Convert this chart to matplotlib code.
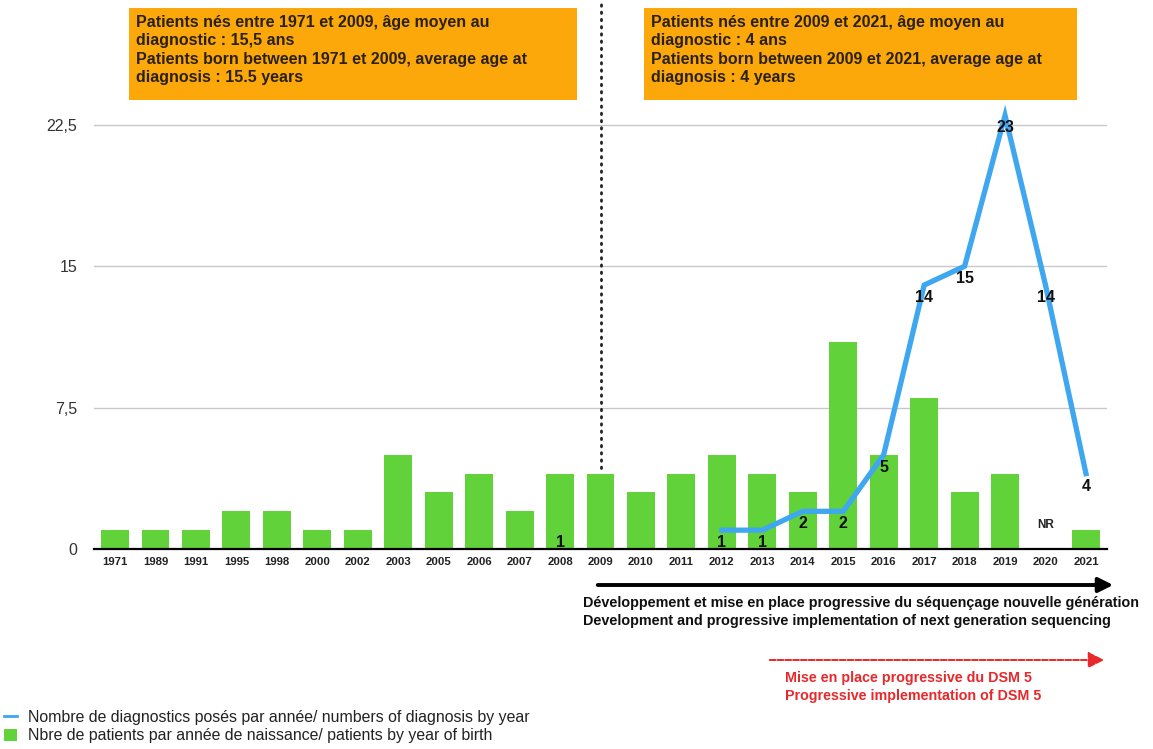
import numpy as np
import matplotlib
matplotlib.use("Agg")
import matplotlib.pyplot as plt
from matplotlib.lines import Line2D
from matplotlib.patches import Rectangle, FancyArrowPatch

plt.rcParams['font.family'] = ['Liberation Sans', 'DejaVu Sans']

# birth years and counts
years = ['1971', '1989', '1991', '1995', '1998', '2000', '2002', '2003', '2005',
         '2006', '2007', '2008', '2009', '2010', '2011', '2012', '2013', '2014',
         '2015', '2016', '2017', '2018', '2019', '2020', '2021']
patients_by_birth = [1, 1, 1, 2, 2, 1, 1, 5, 3, 4, 2, 4, 4, 3, 4, 5, 4, 3,
                     11, 5, 8, 3, 4, 0, 1]
# diagnoses per year (nan = nothing plotted)
nan = np.nan
diagnoses = [nan, nan, nan, nan, nan, nan, nan, nan, nan, nan, nan, 1, nan,
             nan, nan, 1, 1, 2, 2, 5, 14, 15, 23, 14, 4]
not_reported = '2020'
yticks = [0, 7.5, 15, 22.5]
ytick_labels = ['0', '7,5', '15', '22,5']

box_left = ("Patients nés entre 1971 et 2009, âge moyen au\n"
            "diagnostic : 15,5 ans\n"
            "Patients born between 1971 et 2009, average age at\n"
            "diagnosis : 15.5 years")
box_right = ("Patients nés entre 2009 et 2021, âge moyen au\n"
             "diagnostic : 4 ans\n"
             "Patients born between 2009 et 2021, average age at\n"
             "diagnosis : 4 years")
ngs_text = ("Développement et mise en place progressive du séquençage nouvelle génération\n"
            "Development and progressive implementation of next generation sequencing")
dsm_text = ("Mise en place progressive du DSM 5\n"
            "Progressive implementation of DSM 5")
legend_line = "Nombre de diagnostics posés par année/ numbers of diagnosis by year"
legend_bar = "Nbre de patients par année de naissance/ patients by year of birth"

GREEN = '#62D23A'
BLUE = '#3FA6F0'
ORANGE = '#FCA80A'
RED = '#E8282B'

W, H = 1153, 749
fig = plt.figure(figsize=(W / 100, H / 100), dpi=100)


def fx(px):
    return px / W


def fy(py):
    return 1 - py / H


ax = fig.add_axes([fx(94), fy(549), fx(1107) - fx(94), fy(106) - fy(549)])
x = np.arange(len(years))

bars = ax.bar(x, patients_by_birth, width=0.69, color=GREEN, zorder=2)
line, = ax.plot(x, diagnoses, color=BLUE, lw=3.8, solid_joinstyle='miter',
                zorder=3, clip_on=False)

for xi, v in zip(x, diagnoses):
    if not np.isnan(v):
        ax.annotate(f'{v:g}', (xi, v), xytext=(0, -9), textcoords='offset points',
                    ha='center', va='center', fontsize=11.5, fontweight='bold',
                    color='#111111', zorder=4)

ax.text(years.index(not_reported), 1.25, 'NR', ha='center', va='center',
        fontsize=8.5, fontweight='bold', color='#222222')

ax.set_xlim(-0.52, len(years) - 0.48)
ax.set_ylim(0, 23.5)
ax.set_yticks(yticks)
ax.set_yticklabels(ytick_labels)
ax.set_xticks(x)
ax.set_xticklabels(years, fontsize=8.2, fontweight='bold', color='#222222')
ax.tick_params(axis='y', length=0, pad=12, labelsize=11.5, labelcolor='#333333')
ax.tick_params(axis='x', length=0, pad=6)
ax.grid(axis='y', color='#c8c8c8', lw=1, zorder=0)
for s in ['top', 'right', 'left']:
    ax.spines[s].set_visible(False)
ax.spines['bottom'].set_linewidth(1.6)
ax.spines['bottom'].set_zorder(5)

# dotted separator at 2009
ax.plot([years.index('2009')] * 2, [0.183, 1.232], transform=ax.get_xaxis_transform(),
        color='#222222', lw=2, ls=(0, (0.5, 2.1)), dash_capstyle='round',
        clip_on=False, zorder=6)

# orange info boxes
for left, right, txt in [(129, 577, box_left), (644, 1077, box_right)]:
    fig.patches.append(Rectangle((fx(left), fy(100)), fx(right) - fx(left),
                                 fy(8) - fy(100), transform=fig.transFigure,
                                 facecolor=ORANGE, edgecolor='none'))
    fig.text(fx(left + 7), fy(50), txt, ha='left', va='center', fontsize=11.5,
             fontweight='bold', color='#2a2115', linespacing=1.26)

# sequencing arrow
fig.patches.append(FancyArrowPatch((fx(595), fy(585)), (fx(1116), fy(585)),
                                   transform=fig.transFigure, arrowstyle='-|>',
                                   mutation_scale=22, lw=2.8, color='black'))
fig.text(fx(583), fy(612), ngs_text, ha='left', va='center', fontsize=10.4,
         fontweight='bold', color='#111111', linespacing=1.38)

# DSM 5 arrow
fig.patches.append(FancyArrowPatch((fx(767), fy(660)), (fx(1107), fy(660)),
                                   transform=fig.transFigure, arrowstyle='-|>',
                                   mutation_scale=24, lw=1.4, color=RED,
                                   linestyle=(0, (3, 1))))
fig.text(fx(785), fy(687), dsm_text, ha='left', va='center', fontsize=10.3,
         fontweight='bold', color=RED, linespacing=1.33)

# legend
handles = [Line2D([], [], color=BLUE, lw=2), bars]
fig.legend(handles, [legend_line, legend_bar], loc='upper left',
           bbox_to_anchor=(fx(4), fy(710)), frameon=False, fontsize=11.45,
           handlelength=0.8, handleheight=0.8, handletextpad=0.7,
           labelspacing=0.22, borderaxespad=0, borderpad=0, labelcolor='#222222')

fig.savefig('out.png', dpi=100)
